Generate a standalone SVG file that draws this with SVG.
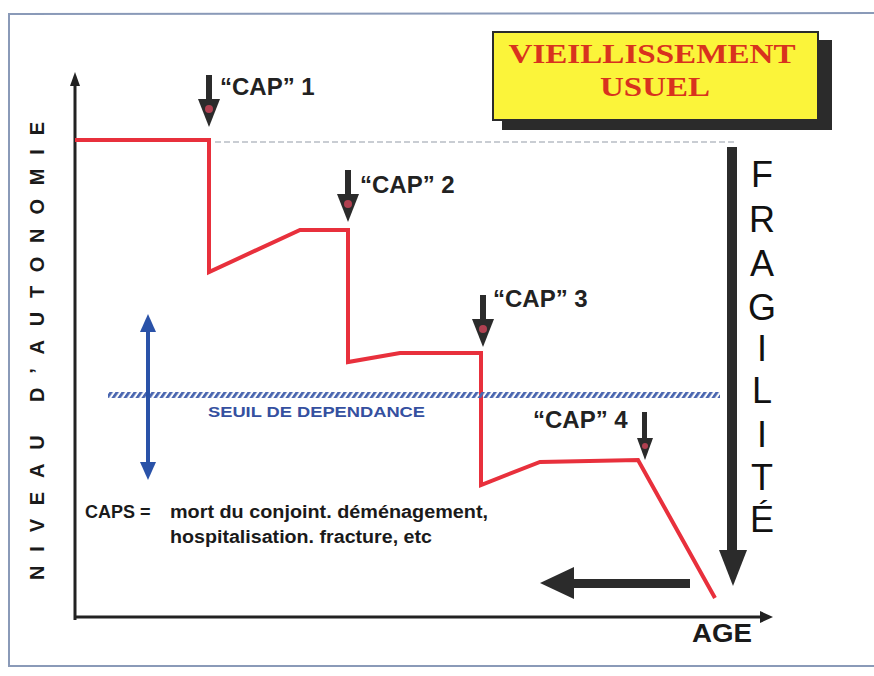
<svg xmlns="http://www.w3.org/2000/svg" width="874" height="676" viewBox="0 0 874 676">
  <defs>
    <style>
      .frame { fill: none; stroke: #8a9ab8; stroke-width: 2; }
      .axis { fill: none; stroke: #222; stroke-width: 3; }
      .curve { fill: none; stroke: #e8303c; stroke-width: 4; stroke-linejoin: miter; }
      .ref { fill: none; stroke: #c9cdd3; stroke-width: 2; stroke-dasharray: 6 3; }
      .cap { font-family: "Liberation Sans", Arial, sans-serif; font-weight: bold; font-size: 24px; fill: #222; }
      .big { font-family: "Liberation Sans", Arial, sans-serif; font-size: 36px; fill: #111; text-anchor: middle; }
      .title { font-family: "Liberation Serif", "Times New Roman", serif; font-weight: bold; font-size: 28px; fill: #d8321e; text-anchor: middle; }
      .note { font-family: "Liberation Sans", Arial, sans-serif; font-weight: bold; font-size: 18px; fill: #1a1a1a; }
      .seuil { font-family: "Liberation Sans", Arial, sans-serif; font-weight: bold; font-size: 15px; fill: #3550a0; }
      .dark { fill: #2b2b2b; }
    </style>
    <pattern id="hatch" width="6" height="6" patternUnits="userSpaceOnUse" patternTransform="skewX(-35)">
      <rect x="0" y="0" width="3.5" height="6" fill="#4a66b0"/>
    </pattern>
    <!-- small downward "cap" marker arrow -->
    <g id="capArrow">
      <rect x="-3" y="0" width="6" height="28" class="dark"/>
      <polygon points="-11,24 11,24 0,52" class="dark"/>
      <circle cx="0" cy="34" r="4" fill="#b04050"/>
    </g>
  </defs>

  <rect width="874" height="676" fill="#ffffff"/>

  <!-- outer frame -->
  <polyline class="frame" points="880,13 9,14 9,666 880,666"/>

  <!-- title box -->
  <g id="title-box">
    <rect x="502" y="40" width="330" height="90" fill="#2b2b2b"/>
    <rect x="493" y="32" width="325" height="88" fill="#fbf43a" stroke="#2b2b2b" stroke-width="2"/>
    <text class="title" x="652" y="63" textLength="287" lengthAdjust="spacingAndGlyphs">VIEILLISSEMENT</text>
    <text class="title" x="655" y="96" textLength="110" lengthAdjust="spacingAndGlyphs">USUEL</text>
  </g>

  <!-- axes -->
  <g id="axes">
    <line class="axis" x1="75" y1="620" x2="75" y2="80"/>
    <polygon points="70,86 80,86 75,72" fill="#222"/>
    <line class="axis" x1="75" y1="617" x2="762" y2="617"/>
    <polygon points="760,611 760,623 773,617" fill="#222"/>
    <text x="44" y="351" transform="rotate(-90 44 351)" text-anchor="middle" textLength="458" lengthAdjust="spacing" font-family="'Liberation Sans', Arial, sans-serif" font-weight="bold" font-size="20" fill="#1a1a1a">NIVEAU D’AUTONOMIE</text>
    <text x="692" y="642" textLength="60" lengthAdjust="spacingAndGlyphs" font-family="'Liberation Sans', Arial, sans-serif" font-weight="bold" font-size="26" fill="#1a1a1a">AGE</text>
  </g>

  <!-- connectors: curve and reference lines -->
  <g id="connectors">
    <line class="ref" x1="215" y1="142" x2="735" y2="142"/>
    <polyline class="curve" points="75,140 209,140 209,272 300,230 348,230 348,362 400,353 481,353 481,485 540,462 638,460 715,598"/>
  </g>

  <!-- dependency threshold -->
  <g id="seuil">
    <rect x="108" y="392" width="612" height="6" fill="url(#hatch)"/>
    <text class="seuil" x="208" y="417" textLength="217" lengthAdjust="spacingAndGlyphs">SEUIL DE DEPENDANCE</text>
  </g>

  <!-- blue double arrow -->
  <g id="range-arrow">
    <line x1="148" y1="328" x2="148" y2="466" stroke="#2a52a8" stroke-width="4"/>
    <polygon points="140,332 156,332 148,314" fill="#2a52a8"/>
    <polygon points="140,462 156,462 148,480" fill="#2a52a8"/>
  </g>

  <!-- cap events -->
  <g id="cap1">
    <use href="#capArrow" x="209" y="75"/>
    <text class="cap" x="220" y="95">“CAP” 1</text>
  </g>
  <g id="cap2">
    <use href="#capArrow" x="348" y="170"/>
    <text class="cap" x="360" y="193">“CAP” 2</text>
  </g>
  <g id="cap3">
    <use href="#capArrow" x="483" y="295"/>
    <text class="cap" x="493" y="307">“CAP” 3</text>
  </g>
  <g id="cap4">
    <text class="cap" x="533" y="428">“CAP” 4</text>
    <rect x="642" y="412" width="5" height="28" class="dark"/>
    <polygon points="637,438 653,438 645,460" class="dark"/>
    <circle cx="645" cy="446" r="3" fill="#b04050"/>
  </g>

  <!-- explanation -->
  <g id="caps-note">
    <text class="note" x="85" y="518" font-weight="normal">CAPS =</text>
    <text class="note" x="170" y="518" textLength="318" lengthAdjust="spacingAndGlyphs">mort du conjoint. déménagement,</text>
    <text class="note" x="170" y="543" textLength="262" lengthAdjust="spacingAndGlyphs">hospitalisation. fracture, etc</text>
  </g>

  <!-- fragility arrow -->
  <g id="fragilite">
    <rect x="727" y="147" width="10" height="406" class="dark"/>
    <polygon points="719,550 747,550 733,586" class="dark"/>
    <text class="big" x="762" y="187">F</text>
    <text class="big" x="762" y="232">R</text>
    <text class="big" x="762" y="276">A</text>
    <text class="big" x="762" y="320">G</text>
    <text class="big" x="762" y="361">I</text>
    <text class="big" x="762" y="403">L</text>
    <text class="big" x="762" y="447">I</text>
    <text class="big" x="762" y="490">T</text>
    <text class="big" x="762" y="532">É</text>
  </g>

  <!-- backward arrow -->
  <g id="back-arrow">
    <rect x="570" y="579" width="120" height="9" class="dark"/>
    <polygon points="574,567 574,599 540,583" class="dark"/>
  </g>
</svg>
